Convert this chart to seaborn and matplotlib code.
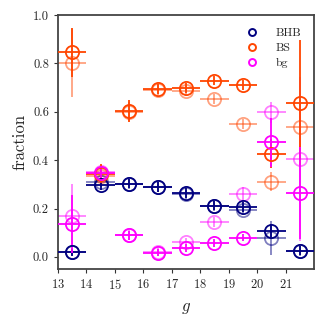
import numpy as np
import pandas as pd
import seaborn as sns
import matplotlib.pyplot as plt
from matplotlib.lines import Line2D

g_bins = [13.5, 14.5, 15.5, 16.5, 17.5, 18.5, 19.5, 20.5, 21.5]

# solid (main) fractions and errors
bhb = [0.019, 0.297, 0.303, 0.289, 0.264, 0.212, 0.205, 0.109, 0.026]
bhb_err = [0.015, 0.02, 0.02, 0.02, 0.02, 0.02, 0.02, 0.025, 0.02]
bs = [0.845, 0.344, 0.604, 0.695, 0.697, 0.729, 0.712, 0.426, 0.638]
bs_err = [0.10, 0.04, 0.045, 0.02, 0.02, 0.02, 0.02, 0.06, 0.26]
bg = [0.135, 0.347, 0.089, 0.017, 0.037, 0.058, 0.080, 0.473, 0.263]
bg_err = [0.12, 0.02, 0.02, 0.015, 0.015, 0.015, 0.015, 0.10, 0.19]

# faded (alternative) fractions and errors
bhb_alt = [0.022, 0.310, 0.300, 0.288, 0.258, 0.210, 0.195, 0.078, 0.024]
bhb_alt_err = [0.015, 0.02, 0.02, 0.02, 0.02, 0.02, 0.02, 0.07, 0.02]
bs_alt = [0.803, 0.335, 0.600, 0.690, 0.685, 0.652, 0.550, 0.311, 0.539]
bs_alt_err = [0.14, 0.04, 0.04, 0.02, 0.02, 0.02, 0.02, 0.04, 0.10]
bg_alt = [0.171, 0.350, 0.090, 0.020, 0.062, 0.143, 0.260, 0.597, 0.404]
bg_alt_err = [0.13, 0.02, 0.02, 0.015, 0.015, 0.02, 0.03, 0.045, 0.34]

labels = ["BHB", "BS", "bg"]
colors = {"BHB": "navy", "BS": "orangered", "bg": "magenta"}

rows = []
for lab, y, e, ya, ea in [("BHB", bhb, bhb_err, bhb_alt, bhb_alt_err),
                          ("BS", bs, bs_err, bs_alt, bs_alt_err),
                          ("bg", bg, bg_err, bg_alt, bg_alt_err)]:
    for x, v, ev in zip(g_bins, y, e):
        rows.append(dict(g=x, frac=v, err=ev, pop=lab, kind="main"))
    for x, v, ev in zip(g_bins, ya, ea):
        rows.append(dict(g=x, frac=v, err=ev, pop=lab, kind="alt"))
df = pd.DataFrame(rows)

sns.set_theme(style="ticks")
plt.rcParams["font.family"] = "serif"
plt.rcParams["font.serif"] = ["cmr10"]
plt.rcParams["mathtext.fontset"] = "cm"
plt.rcParams["axes.unicode_minus"] = False
plt.rcParams["axes.formatter.use_mathtext"] = True

fig = plt.figure(figsize=(3.24, 3.22), dpi=100)
ax = fig.add_axes([58 / 324, 53 / 322, 256 / 324, 254 / 322])

for kind, alpha in [("alt", 0.5), ("main", 1.0)]:
    for lab in labels:
        sub = df[(df["pop"] == lab) & (df["kind"] == kind)]
        ax.errorbar(sub["g"], sub["frac"], xerr=0.5, yerr=sub["err"],
                    fmt="o", mfc="none", mec=colors[lab], ms=9.5, mew=1.3,
                    ecolor=colors[lab], elinewidth=1.3, capsize=0,
                    alpha=alpha, zorder=3 if kind == "main" else 2)

ax.set_xlim(13, 22)
ax.set_ylim(-0.05, 1.0)
ax.set_xticks(range(13, 22))
ax.set_yticks([0.0, 0.2, 0.4, 0.6, 0.8, 1.0])
ax.set_yticklabels(["0.0", "0.2", "0.4", "0.6", "0.8", "1.0"])
ax.tick_params(labelsize=9, length=3, width=0.8, color="#333333", pad=3.5)
for sp in ax.spines.values():
    sp.set_color("#444444")
    sp.set_linewidth(1.3)
ax.set_xlabel("$g$", fontsize=12, labelpad=6)
ax.set_ylabel("fraction", fontsize=12)

handles = [Line2D([], [], ls="none", marker="o", mfc="none", mec=colors[l],
                  ms=5, mew=1.4) for l in labels]
ax.legend(handles, labels, loc="upper right", frameon=False, fontsize=8.5,
          handletextpad=1.0, labelspacing=0.4, borderaxespad=0.7)

fig.savefig("out.png", dpi=100)
